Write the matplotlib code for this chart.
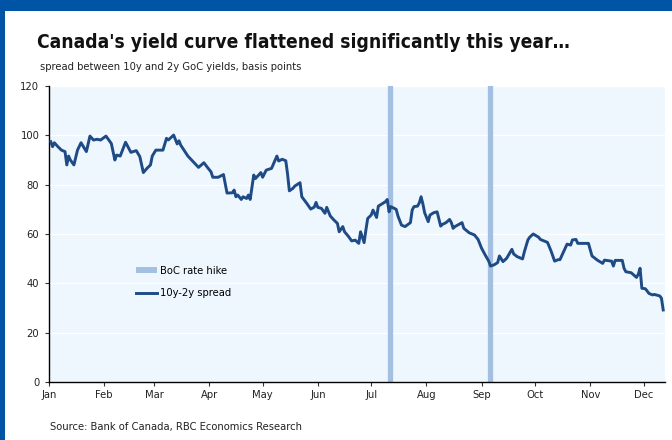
import matplotlib
matplotlib.use('Agg')
import matplotlib.pyplot as plt
from matplotlib.patches import Patch, Rectangle
from matplotlib.lines import Line2D
import pandas as pd

# 10y - 2y GoC spread (bp)
dates = [
    '2017-01-02', '2017-01-03', '2017-01-04', '2017-01-06', '2017-01-08', '2017-01-10', '2017-01-11',
    '2017-01-12', '2017-01-13', '2017-01-15', '2017-01-17', '2017-01-19', '2017-01-22', '2017-01-24',
    '2017-01-26', '2017-01-28', '2017-01-30',
    '2017-02-02', '2017-02-05', '2017-02-07', '2017-02-08', '2017-02-10', '2017-02-13', '2017-02-16',
    '2017-02-19', '2017-02-21', '2017-02-23', '2017-02-25', '2017-02-27', '2017-02-28',
    '2017-03-02', '2017-03-06', '2017-03-08', '2017-03-09', '2017-03-12', '2017-03-14', '2017-03-15',
    '2017-03-16', '2017-03-18', '2017-03-20', '2017-03-23', '2017-03-26', '2017-03-29', '2017-03-31',
    '2017-04-02', '2017-04-03', '2017-04-06', '2017-04-09', '2017-04-11', '2017-04-14', '2017-04-15',
    '2017-04-16', '2017-04-17', '2017-04-19', '2017-04-20', '2017-04-22', '2017-04-23', '2017-04-24',
    '2017-04-26', '2017-04-27', '2017-04-30',
    '2017-05-01', '2017-05-03', '2017-05-06', '2017-05-09', '2017-05-10', '2017-05-12', '2017-05-14',
    '2017-05-15', '2017-05-16', '2017-05-18', '2017-05-19', '2017-05-22', '2017-05-23', '2017-05-26',
    '2017-05-28', '2017-05-30', '2017-05-31',
    '2017-06-01', '2017-06-03', '2017-06-05', '2017-06-06', '2017-06-08', '2017-06-10', '2017-06-12',
    '2017-06-13', '2017-06-15', '2017-06-16', '2017-06-18', '2017-06-20', '2017-06-22', '2017-06-24',
    '2017-06-25', '2017-06-27', '2017-06-28', '2017-06-29',
    '2017-07-01', '2017-07-02', '2017-07-04', '2017-07-05', '2017-07-07', '2017-07-09', '2017-07-10',
    '2017-07-11', '2017-07-12', '2017-07-15', '2017-07-16', '2017-07-18', '2017-07-20', '2017-07-23',
    '2017-07-24', '2017-07-25', '2017-07-27', '2017-07-28', '2017-07-29', '2017-07-30', '2017-07-31',
    '2017-08-02', '2017-08-03', '2017-08-05', '2017-08-07', '2017-08-09', '2017-08-10', '2017-08-12',
    '2017-08-14', '2017-08-15', '2017-08-16', '2017-08-17', '2017-08-21', '2017-08-22', '2017-08-25',
    '2017-08-28', '2017-08-30',
    '2017-09-01', '2017-09-03', '2017-09-05', '2017-09-06', '2017-09-08', '2017-09-10', '2017-09-11',
    '2017-09-13', '2017-09-15', '2017-09-18', '2017-09-19', '2017-09-21', '2017-09-24', '2017-09-25',
    '2017-09-27', '2017-09-28', '2017-09-30',
    '2017-10-03', '2017-10-04', '2017-10-08', '2017-10-10', '2017-10-12', '2017-10-14', '2017-10-15',
    '2017-10-17', '2017-10-19', '2017-10-21', '2017-10-22', '2017-10-24', '2017-10-25', '2017-10-31',
    '2017-11-02', '2017-11-05', '2017-11-08', '2017-11-09', '2017-11-13', '2017-11-14', '2017-11-15',
    '2017-11-19', '2017-11-20', '2017-11-21', '2017-11-24', '2017-11-27', '2017-11-28', '2017-11-29',
    '2017-11-30',
    '2017-12-02', '2017-12-04', '2017-12-06', '2017-12-07', '2017-12-10', '2017-12-11', '2017-12-12',
]
spread = [
    97.4, 95.4, 97.0, 95.4, 94.0, 93.4, 88.0,
    91.6, 90.0, 88.0, 94.0, 97.0, 93.4, 99.7,
    98.1, 98.4, 98.1,
    99.7, 96.7, 90.0, 92.0, 91.6, 97.2, 93.1,
    93.8, 91.4, 84.9, 86.6, 88.0, 91.6,
    94.0, 94.0, 98.8, 98.1, 100.1, 96.5, 97.8,
    96.0, 93.8, 91.6, 89.3, 87.0, 88.9, 87.0,
    85.2, 83.0, 83.0, 84.1, 76.6, 76.7, 77.8,
    75.1, 75.8, 74.0, 75.1, 74.4, 75.8, 74.0,
    83.9, 82.5, 84.9,
    83.0, 85.9, 86.6, 91.6, 89.6, 90.3, 89.7,
    84.3, 77.5, 78.5, 79.4, 80.8, 75.1, 72.2,
    70.1, 70.9, 72.8,
    70.8, 70.4, 68.4, 70.8, 67.3, 65.7, 64.3,
    60.9, 63.0, 60.9, 59.2, 57.2, 57.5, 56.2,
    60.9, 56.5, 61.6, 66.3,
    67.7, 69.7, 66.7, 71.3, 72.2, 73.1, 74.0,
    69.0, 71.1, 70.0, 67.3, 63.6, 63.0, 64.6,
    69.7, 71.1, 71.3, 72.6, 75.1, 72.2, 68.6,
    65.0, 67.7, 68.6, 69.0, 63.2, 63.9, 64.6,
    65.9, 64.6, 62.3, 63.0, 64.6, 62.3, 60.5,
    59.6, 57.8,
    54.2, 51.5, 49.0, 47.0, 47.5, 48.4, 51.1,
    48.8, 50.1, 53.8, 51.9, 50.8, 49.9, 52.8,
    57.6, 58.7, 60.0,
    58.7, 57.8, 56.6, 53.1, 49.0, 49.6, 49.6,
    52.8, 55.9, 55.5, 57.6, 57.8, 56.2, 56.2,
    51.1, 49.4, 48.1, 49.4, 49.0, 47.0, 49.3,
    49.3, 46.1, 44.7, 44.3, 42.4, 43.7, 46.1,
    38.0,
    37.8, 35.9, 35.3, 35.5, 34.9, 34.0, 29.2,
]
hike_dates = ['2017-07-12', '2017-09-06']
month_starts = ['2017-01-01', '2017-02-01', '2017-03-01', '2017-04-01', '2017-05-01', '2017-06-01',
                '2017-07-01', '2017-08-01', '2017-09-01', '2017-10-01', '2017-11-01', '2017-12-01']
month_labels = ['Jan', 'Feb', 'Mar', 'Apr', 'May', 'Jun', 'Jul', 'Aug', 'Sep', 'Oct', 'Nov', 'Dec']
y_ticks = [0, 20, 40, 60, 80, 100, 120]

frame_blue = '#0054A6'
line_blue = '#1E4A85'
hike_blue = '#A3BFE2'
bg = '#EEF6FE'

# condensed DejaVu is the closest thing here to the Tahoma look of the original
plt.rcParams['font.family'] = ['DejaVu Sans']
plt.rcParams['font.stretch'] = 'condensed'

W, H = 672, 440
fig = plt.figure(figsize=(W / 100, H / 100), dpi=100)
fig.patch.set_facecolor('white')
# RBC frame: top band and left bar
fig.patches.append(Rectangle((0, 1 - 11 / H), 1, 11 / H, transform=fig.transFigure,
                             facecolor=frame_blue, edgecolor='none'))
fig.patches.append(Rectangle((0, 0), 5 / W, 1, transform=fig.transFigure,
                             facecolor=frame_blue, edgecolor='none'))

ax = fig.add_axes([49 / W, 58 / H, 616 / W, 296 / H])
ax.set_facecolor(bg)

x = pd.to_datetime(dates)
for d in hike_dates:
    ax.axvline(pd.Timestamp(d) - pd.Timedelta(hours=12), color=hike_blue, lw=3.8, zorder=1)
ax.plot(x, spread, color=line_blue, lw=2.1, zorder=3)

ax.set_ylim(0, 120)
ax.set_yticks(y_ticks)
ax.yaxis.grid(True, color='white', lw=1.0)
ax.set_axisbelow(True)
ax.set_xlim(pd.Timestamp('2017-01-01'), pd.Timestamp('2017-12-13'))
ax.set_xticks(pd.to_datetime(month_starts))
ax.set_xticklabels(month_labels)

for s in ['top', 'right']:
    ax.spines[s].set_visible(False)
for s in ['left', 'bottom']:
    ax.spines[s].set_color('black')
    ax.spines[s].set_linewidth(1.0)
ax.tick_params(axis='both', length=3, width=0.8, color='#333333', labelsize=8, labelcolor='#222222')
ax.tick_params(axis='y', pad=4)
ax.tick_params(axis='x', pad=3)

handles = [Patch(facecolor=hike_blue, edgecolor='none'),
           Line2D([0], [0], color=line_blue, lw=2.1)]
ax.legend(handles, ['BoC rate hike', '10y-2y spread'], loc='upper left',
          bbox_to_anchor=(136 / W, 1 - 266 / H), bbox_transform=fig.transFigure,
          frameon=False, fontsize=8, handlelength=1.9, handleheight=0.55,
          handletextpad=0.3, labelspacing=1.1, borderpad=0, borderaxespad=0)

fig.text(37 / W, 1 - 43 / H, "Canada's yield curve flattened significantly this year\u2026",
         fontsize=13.8, fontweight='bold', color='#111111', va='center', ha='left')
fig.text(40 / W, 1 - 67 / H, 'spread between 10y and 2y GoC yields, basis points',
         fontsize=8, color='#222222', va='center', ha='left')
fig.text(50 / W, 1 - 427 / H, 'Source: Bank of Canada, RBC Economics Research',
         fontsize=8, color='#222222', va='center', ha='left')

fig.savefig('out.png', dpi=100)
